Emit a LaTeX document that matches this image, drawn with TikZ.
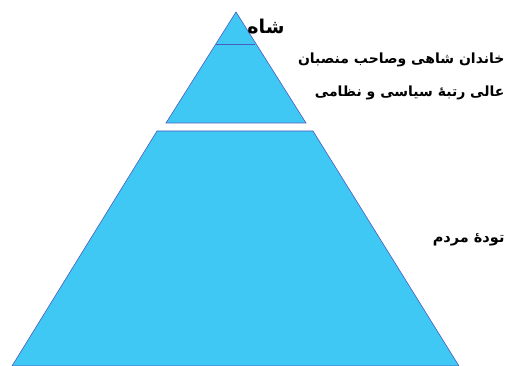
\documentclass[tikz,border=0pt]{standalone}
\usepackage{fontspec}
\newfontfamily\arabicfont[Script=Arabic]{DejaVu Sans}
\TeXXeTstate=1
\definecolor{pyrfill}{HTML}{40C8F4}
\definecolor{pyredge}{HTML}{4B5BBF}

\begin{document}
\begin{tikzpicture}[x=1pt,y=-1pt]
  \useasboundingbox (0,0) rectangle (509,366);
  % top part of the pyramid
  \filldraw[fill=pyrfill, draw=pyredge, line width=0.6pt] (236,12) -- (306,123) -- (166,123) -- cycle;
  \draw[pyredge, line width=0.6pt] (216,44) -- (255,44);
  % lower part
  \filldraw[fill=pyrfill, draw=pyredge, line width=0.6pt] (157,131) -- (313,131) -- (459,366) -- (12,366) -- cycle;
  \node[font=\arabicfont\bfseries\fontsize{19}{22}\selectfont, anchor=center] (shah) at (266,27) {\beginR شاه\endR};
  \node[font=\arabicfont\bfseries\fontsize{14}{17}\selectfont, anchor=east] (elite1) at (508,60) {\beginR خاندان شاهی وصاحب منصبان\endR};
  \node[font=\arabicfont\bfseries\fontsize{14}{17}\selectfont, anchor=east] (elite2) at (508,93) {\beginR عالی رتبهٔ سیاسی و نظامی\endR};
  \node[font=\arabicfont\bfseries\fontsize{14.5}{17}\selectfont, anchor=east] (people) at (508,240) {\beginR تودهٔ مردم\endR};
\end{tikzpicture}
\end{document}
